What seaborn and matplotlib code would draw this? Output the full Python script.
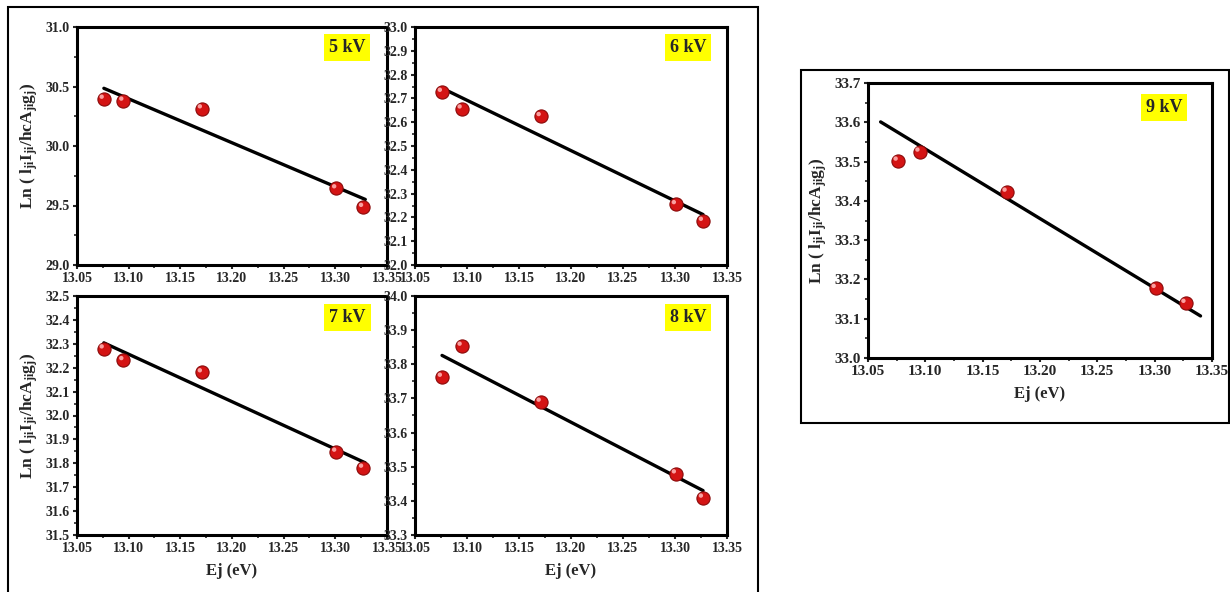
import numpy as np
import pandas as pd
import matplotlib
matplotlib.use("Agg")
import matplotlib.pyplot as plt
import matplotlib.transforms as mtrans
from matplotlib.patches import Rectangle
from matplotlib.ticker import MultipleLocator, FormatStrFormatter
import seaborn as sns

sns.set_style("white")
plt.rcParams['font.family'] = ['Liberation Serif', 'DejaVu Serif']
plt.rcParams['font.weight'] = 'bold'
plt.rcParams['mathtext.default'] = 'regular'

# ---- data ----
ej = [13.076, 13.095, 13.171, 13.301, 13.327]
ln_5kv = [30.396, 30.380, 30.315, 29.643, 29.487]
ln_6kv = [32.727, 32.657, 32.625, 32.255, 32.185]
ln_7kv = [32.280, 32.231, 32.180, 31.848, 31.781]
ln_8kv = [33.763, 33.854, 33.690, 33.480, 33.409]
ln_9kv = [33.502, 33.525, 33.423, 33.178, 33.140]

fit_x_5kv = [13.076, 13.329]
fit_y_5kv = [30.485, 29.551]
fit_x_6kv = [13.076, 13.327]
fit_y_6kv = [32.743, 32.212]
fit_x_7kv = [13.076, 13.329]
fit_y_7kv = [32.304, 31.802]
fit_x_8kv = [13.076, 13.327]
fit_y_8kv = [33.826, 33.430]
fit_x_9kv = [13.061, 13.340]
fit_y_9kv = [33.601, 33.107]

labels = ["5 kV", "6 kV", "7 kV", "8 kV", "9 kV"]
ylims = [(29.0, 31.0), (32.0, 33.0), (31.5, 32.5), (33.3, 34.0), (33.0, 33.7)]
ysteps = [0.5, 0.1, 0.1, 0.1, 0.1]
xlim = (13.05, 13.35)

W, H = 1230, 592
fig = plt.figure(figsize=(W / 100, H / 100), dpi=100)

def fax(l, t, r, b):
    return fig.add_axes([l / W, (H - b) / H, (r - l) / W, (b - t) / H])

axes = [
    fax(77, 27, 387, 265),
    fax(415, 27, 727, 265),
    fax(77, 296, 387, 535),
    fax(415, 296, 727, 535),
    fax(868, 83, 1212, 358),
]

series = [ln_5kv, ln_6kv, ln_7kv, ln_8kv, ln_9kv]
fits = [(fit_x_5kv, fit_y_5kv), (fit_x_6kv, fit_y_6kv), (fit_x_7kv, fit_y_7kv),
        (fit_x_8kv, fit_y_8kv), (fit_x_9kv, fit_y_9kv)]
label_pos = [(0.871, 0.913), (0.875, 0.913), (0.873, 0.91), (0.875, 0.91), (0.86, 0.91)]
show_ylabel = [True, False, True, False, True]
show_xlabel = [False, False, True, True, True]
tick_fs = [10, 10, 10, 10, 11]

ylabel_txt = r"Ln ( l$_{ji}$I$_{ji}$/hcA$_{ji}$g$_{j}$)"

for i, ax in enumerate(axes):
    df = pd.DataFrame({"Ej": ej, "Ln": series[i]})
    fx, fy = fits[i]
    dfit = pd.DataFrame({"Ej": fx, "Ln": fy})
    sns.lineplot(data=dfit, x="Ej", y="Ln", ax=ax, color="black", lw=2.4, zorder=2)
    sns.scatterplot(data=df, x="Ej", y="Ln", ax=ax, s=90, color="#d41414",
                    edgecolor="#8a0a0a", linewidth=0.8, zorder=3)
    hl = mtrans.offset_copy(ax.transData, fig=fig, x=-2.2, y=2.2, units="dots")
    sns.scatterplot(data=df, x="Ej", y="Ln", ax=ax, s=10, color="#ffb0b0",
                    edgecolor="none", linewidth=0, zorder=4, transform=hl, alpha=0.9)
    ax.set_xlim(*xlim)
    ax.set_ylim(*ylims[i])
    ax.xaxis.set_major_locator(MultipleLocator(0.05))
    ax.xaxis.set_minor_locator(MultipleLocator(0.025))
    ax.yaxis.set_major_locator(MultipleLocator(ysteps[i]))
    ax.yaxis.set_minor_locator(MultipleLocator(ysteps[i] / 2))
    ax.xaxis.set_major_formatter(FormatStrFormatter("%.2f"))
    ax.yaxis.set_major_formatter(FormatStrFormatter("%.1f"))
    ax.tick_params(which="major", direction="out", length=3, width=1.5,
                   labelsize=tick_fs[i], pad=2, bottom=True, left=True, top=False, right=False)
    ax.tick_params(which="minor", direction="out", length=2, width=1.2,
                   bottom=True, left=True, top=False, right=False)
    for lab in ax.get_xticklabels() + ax.get_yticklabels():
        lab.set_fontweight("bold")
    for sp in ax.spines.values():
        sp.set_linewidth(2.2)
        sp.set_color("black")
    if show_ylabel[i]:
        ax.set_ylabel(ylabel_txt, fontsize=12.5, fontweight="bold", labelpad=4)
    else:
        ax.set_ylabel("")
    if show_xlabel[i]:
        ax.set_xlabel("Ej (eV)", fontsize=12, fontweight="bold", labelpad=6)
    else:
        ax.set_xlabel("")
    ax.text(label_pos[i][0], label_pos[i][1], labels[i], transform=ax.transAxes,
            ha="center", va="center", fontsize=13, fontweight="bold",
            bbox=dict(boxstyle="square,pad=0.28", facecolor="#ffff00", edgecolor="none"))

# outer frames
fig.add_artist(Rectangle((8 / W, -0.05), (758 - 8) / W, 0.05 + (H - 7) / H,
                         transform=fig.transFigure, fill=False, lw=1.5, ec="black"))
fig.add_artist(Rectangle((801 / W, (H - 423) / H), (1229 - 801) / W, (423 - 70) / H,
                         transform=fig.transFigure, fill=False, lw=1.5, ec="black"))

fig.savefig("out.png", dpi=100)
